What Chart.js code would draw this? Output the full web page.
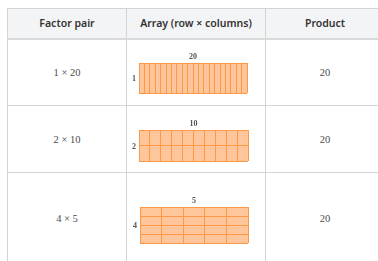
<!DOCTYPE html>
<html lang="en">
<head>
<meta charset="UTF-8">
<title>Factor pairs of 20</title>
<style>
body { margin: 0; background: #fff; overflow: hidden; width: 378px; height: 261px; }
table { position: absolute; left: 7px; top: 8px; border-collapse: collapse; table-layout: fixed; width: 377px; }
th, td { border: 1px solid #d4d4d4; text-align: center; padding: 0; }
th { background: #f3f4f6; font-family: "Noto Sans", sans-serif; font-weight: 600; font-size: 10.5px; color: #333; border-bottom: 2px solid #dadada; }
td { font-family: "Liberation Serif", "Times New Roman", serif; font-size: 10.5px; color: #4a4a4a; }
canvas { position: absolute; }
</style>
</head>
<body>
<table id="tbl">
  <colgroup><col style="width:119px"><col style="width:139px"><col style="width:119px"></colgroup>
  <thead><tr style="height:30px"><th>Factor pair</th><th>Array (row × columns)</th><th>Product</th></tr></thead>
  <tbody id="rows"></tbody>
</table>
<script src="https://cdn.jsdelivr.net/npm/chart.js@4.4.1/dist/chart.umd.min.js"></script>
<script>
const factorPairs = ['1 × 20', '2 × 10', '4 × 5'];
const arrayRows = [1, 2, 4];
const arrayCols = [20, 10, 5];
const products = [20, 20, 20];

const rowHeights = [67, 67, 92];
const FILL = '#ffc69c';
const LINE = '#ff9845';

// labels: columns on top, rows on the left
const arrayLabels = {
  id: 'arrayLabels',
  afterDraw(chart) {
    const o = chart.options.plugins.arrayLabels;
    const a = chart.chartArea;
    const ctx = chart.ctx;
    ctx.save();
    ctx.font = 'bold 8px "Liberation Serif", serif';
    ctx.fillStyle = '#555';
    ctx.textAlign = 'center';
    ctx.textBaseline = 'bottom';
    ctx.fillText(o.top, (a.left + a.right) / 2, a.top - 2);
    ctx.textAlign = 'right';
    ctx.textBaseline = 'middle';
    ctx.fillText(o.left, a.left - 3, (a.top + a.bottom) / 2 + 1);
    ctx.restore();
  }
};

const pads = [
  { left: 12, right: 18, top: 24, bottom: 12 },
  { left: 12, right: 17, top: 24, bottom: 11 },
  { left: 13, right: 17, top: 34, bottom: 21 }
];

const tbody = document.getElementById('rows');
let y = 39;
factorPairs.forEach((fp, i) => {
  const tr = document.createElement('tr');
  tr.style.height = rowHeights[i] + 'px';
  tr.innerHTML = '<td>' + fp + '</td><td></td><td>' + products[i] + '</td>';
  tbody.appendChild(tr);

  const cv = document.createElement('canvas');
  const h = rowHeights[i] - 1;
  cv.width = 138; cv.height = h;
  cv.style.left = '127px'; cv.style.top = y + 'px';
  document.body.appendChild(cv);
  y += rowHeights[i];

  const rows = arrayRows[i], cols = arrayCols[i];
  const labels = [];
  for (let r = 1; r <= rows; r++) labels.push('r' + r);

  new Chart(cv, {
    type: 'bar',
    data: {
      labels: labels,
      datasets: [{ data: labels.map(() => cols), backgroundColor: FILL, borderWidth: 0,
                   categoryPercentage: 1, barPercentage: 1 }]
    },
    options: {
      indexAxis: 'y',
      responsive: false,
      animation: false,
      layout: { padding: pads[i] },
      plugins: {
        legend: { display: false },
        tooltip: { enabled: false },
        arrayLabels: { top: cols, left: rows }
      },
      scales: {
        x: { min: 0, max: cols, ticks: { display: false, stepSize: 1, autoSkip: false },
             grid: { color: LINE, z: 1, drawTicks: false }, border: { display: false } },
        y: { ticks: { display: false, autoSkip: false },
             grid: { color: LINE, z: 1, offset: true, drawTicks: false }, border: { display: false } }
      }
    },
    plugins: [arrayLabels]
  });
});
</script>
</body>
</html>
